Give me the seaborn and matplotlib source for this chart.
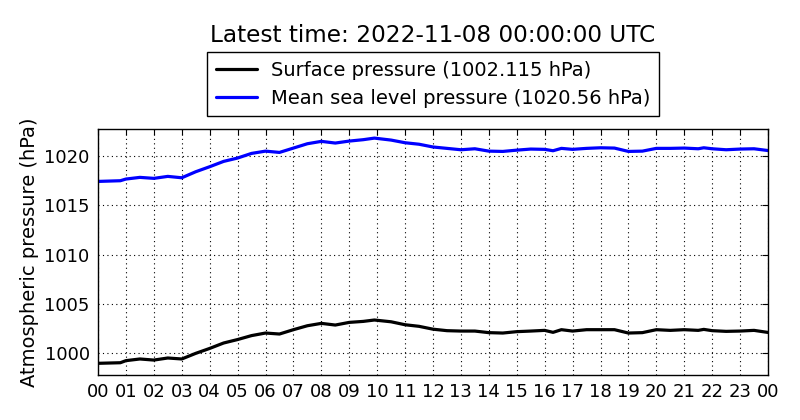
import matplotlib
matplotlib.use("Agg")
import matplotlib.pyplot as plt
import seaborn as sns
import pandas as pd
import numpy as np

hours = [0, 0.8, 1, 1.5, 2, 2.5, 3, 3.5, 4, 4.5, 5, 5.5, 6, 6.5, 7, 7.5, 8, 8.5, 9, 9.5, 9.9,
         10.5, 11, 11.5, 12, 12.5, 13, 13.5, 14, 14.5, 15, 15.5, 16, 16.3, 16.6, 17, 17.5, 18,
         18.5, 19, 19.5, 20, 20.5, 21, 21.5, 21.7, 22, 22.5, 23, 23.5, 24]

surface = [998.99, 999.05, 999.26, 999.43, 999.32, 999.53, 999.43, 1000.0, 1000.5, 1001.05,
           1001.4, 1001.8, 1002.06, 1001.96, 1002.4, 1002.8, 1003.04, 1002.87, 1003.14, 1003.24,
           1003.38, 1003.2, 1002.9, 1002.74, 1002.45, 1002.3, 1002.26, 1002.26, 1002.1, 1002.06,
           1002.2, 1002.26, 1002.33, 1002.13, 1002.4, 1002.26, 1002.4, 1002.4, 1002.4, 1002.06,
           1002.1, 1002.4, 1002.33, 1002.4, 1002.33, 1002.43, 1002.3, 1002.23, 1002.26, 1002.33,
           1002.12]

mslp = [1017.43, 1017.5, 1017.67, 1017.84, 1017.74, 1017.94, 1017.8, 1018.41, 1018.92, 1019.46,
        1019.8, 1020.27, 1020.5, 1020.37, 1020.81, 1021.25, 1021.49, 1021.32, 1021.52, 1021.66,
        1021.82, 1021.62, 1021.35, 1021.2, 1020.92, 1020.78, 1020.64, 1020.74, 1020.5, 1020.47,
        1020.6, 1020.71, 1020.68, 1020.54, 1020.78, 1020.68, 1020.78, 1020.84, 1020.81, 1020.47,
        1020.5, 1020.78, 1020.78, 1020.81, 1020.74, 1020.84, 1020.74, 1020.64, 1020.71, 1020.74,
        1020.56]

tick_hours = list(range(25))
tick_labels = ["%02d" % (h % 24) for h in tick_hours]
y_ticks = [1000, 1005, 1010, 1015, 1020]

title = "Latest time: 2022-11-08 00:00:00 UTC"
label_surface = "Surface pressure (1002.115 hPa)"
label_mslp = "Mean sea level pressure (1020.56 hPa)"

sns.set_style("white", {"xtick.direction": "in", "ytick.direction": "in",
                        "axes.edgecolor": "black", "xtick.color": "black",
                        "ytick.color": "black", "text.color": "black",
                        "axes.labelcolor": "black"})
plt.rcParams["font.family"] = ["DejaVu Sans"]

df = pd.DataFrame({"hour": hours + hours,
                   "value": surface + mslp,
                   "series": [label_surface] * len(hours) + [label_mslp] * len(hours)})

fig = plt.figure(figsize=(8, 4.2), dpi=100)
ax = fig.add_axes([0.1225, 0.107, 0.8375, 0.586])
sns.lineplot(data=df, x="hour", y="value", hue="series",
             palette={label_surface: "black", label_mslp: "blue"},
             linewidth=2.3, ax=ax)

ax.set_xlim(0, 24)
ax.set_ylim(997.8, 1022.75)
ax.set_xticks(tick_hours)
ax.set_xticklabels(tick_labels)
ax.set_yticks(y_ticks)
ax.tick_params(axis="both", which="both", direction="in", top=True, right=True,
               length=4, width=0.8, labelsize=13, pad=6, colors="black")
for s in ax.spines.values():
    s.set_color("black")
    s.set_linewidth(1.0)
ax.grid(True, linestyle=(0, (1, 3)), color="black", linewidth=0.8)
ax.set_xlabel("")
ax.set_ylabel("Atmospheric pressure (hPa)", fontsize=14, labelpad=4, color="black")

leg = ax.legend(loc="lower center", bbox_to_anchor=(0.5, 1.0), fontsize=14,
                frameon=True, fancybox=False, edgecolor="black", framealpha=1,
                handlelength=2.1, borderpad=0.45, labelspacing=0.45, handletextpad=0.7,
                borderaxespad=0.65)
leg.get_frame().set_linewidth(1.0)
for t in leg.get_texts():
    t.set_color("black")
ax.text(0.5, 1.38, title, transform=ax.transAxes, fontsize=16.7,
        ha="center", va="center", color="black")

fig.savefig("out.png", dpi=100)
